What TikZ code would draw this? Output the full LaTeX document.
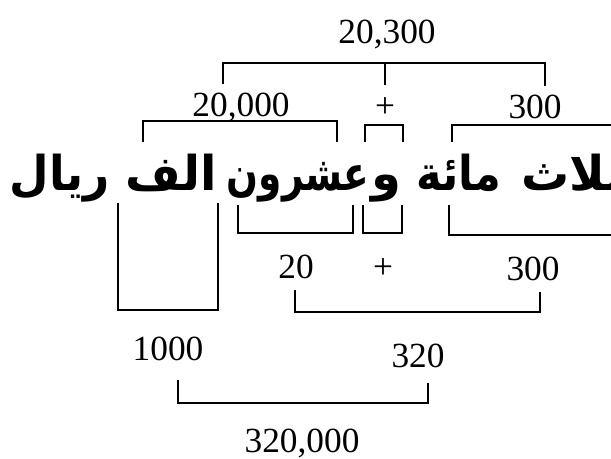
\documentclass[tikz,border=0pt]{standalone}
\usepackage{fontspec}
\setmainfont{Liberation Serif}
\newfontfamily\arabicfont[Script=Arabic]{DejaVu Sans}
\TeXXeTstate=1

\begin{document}
\begin{tikzpicture}[x=0.75pt, y=-0.75pt,
    num/.style={font=\fontsize{26.5}{29}\selectfont, inner sep=0pt, anchor=base},
    word/.style={font=\arabicfont\bfseries\fontsize{36}{40}\selectfont, inner sep=0pt, anchor=base},
    bkt/.style={line width=1.4pt, line join=miter}]
    \useasboundingbox (0,0) rectangle (611,458);
    \clip (0,0) rectangle (611,458);

    % Arabic words
    \node[word] (riyal)   at (60,190)  {\scalebox{0.95}[1]{\beginR ريال\endR}};
    \node[word] (alf)     at (171,190) {\beginR الف\endR};
    \node[word] (ishrun)  at (298,190) {\scalebox{0.78}[1]{\beginR عشرون\endR}};
    \node[word] (wa)      at (386,190) {\beginR و\endR};
    \node[word] (mia)     at (459,190) {\scalebox{0.9}[1]{\beginR مائة\endR}};
    \node[word] (thalath) at (573,190) {\beginR ثلاث\endR};

    % Numbers above
    \node[num] (n20300) at (387,43)  {20,300};
    \node[num] (n20000) at (241,116) {20,000};
    \node[num] (plusA)  at (385,117) {+};
    \node[num] (n300a)  at (535,118) {300};

    % Numbers below
    \node[num] (n20)    at (296,278) {20};
    \node[num] (plusB)  at (383,278) {+};
    \node[num] (n300b)  at (533,280) {300};
    \node[num] (n1000)  at (168,360) {1000};
    \node[num] (n320)   at (418,367) {320};
    \node[num] (n320k)  at (302,452) {320,000};

    % Brackets above
    \draw[bkt] (223,84) |- (545,63) -- (545,86);
    \draw[bkt] (385,63) -- (385,85);
    \draw[bkt] (143,142) |- (337,121) -- (337,142);
    \draw[bkt] (365,142) |- (403,125) -- (403,142);
    \draw[bkt] (452,142) |- (640,125) -- (640,142);

    % Brackets below
    \draw[bkt] (118,203) |- (218,310) -- (218,203);
    \draw[bkt] (238,205) |- (353,233) -- (353,205);
    \draw[bkt] (363,205) |- (402,233) -- (402,205);
    \draw[bkt] (449,205) |- (640,235) -- (640,205);
    \draw[bkt] (295,290) |- (540,312) -- (540,292);
    \draw[bkt] (178,380) |- (428,403) -- (428,383);
\end{tikzpicture}
\end{document}
